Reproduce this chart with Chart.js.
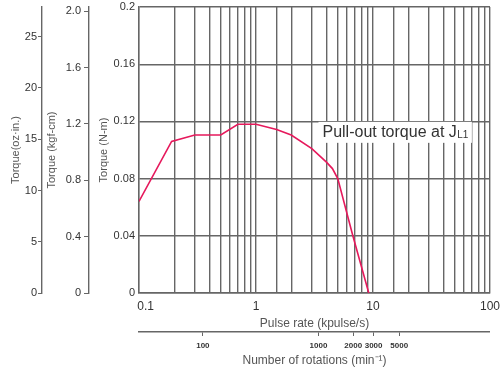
<!DOCTYPE html>
<html>
<head>
<meta charset="utf-8">
<script src="https://cdn.jsdelivr.net/npm/chart.js@4"></script>
<style>
  html, body { margin: 0; padding: 0; background: #fff; }
</style>
</head>
<body>
<canvas id="chart" width="500" height="368"></canvas>
<script>
// pull-out torque curve
const pulseRate = [0.1, 0.19, 0.3, 0.5, 0.7, 1.0, 1.5, 2, 3, 4, 4.5, 5, 6.7, 9.2];      // kpulse/s
const torqueNm  = [0.064, 0.106, 0.1105, 0.1105, 0.118, 0.118, 0.1143, 0.1105, 0.101, 0.0915, 0.087, 0.080, 0.0406, 0];

// axis ticks
const nmTicks   = [0, 0.04, 0.08, 0.12, 0.16, 0.2];
const nmLabels  = ['0', '0.04', '0.08', '0.12', '0.16', '0.2'];
const kgfTicks  = [0, 0.4, 0.8, 1.2, 1.6, 2.0];
const kgfLabels = ['0', '0.4', '0.8', '1.2', '1.6', '2.0'];
const ozTicks   = [0, 5, 10, 15, 20, 25];
const pulseLabelTicks = [0.1, 1, 10, 100];
const rpmTicks  = [100, 1000, 2000, 3000, 5000];

const curveName = 'Pull-out torque at J';
const curveNameSub = 'L1';
const curveNameAt = { x: 3.7, y: 0.112 };

const FONT = '"Liberation Sans", Arial, sans-serif';
const gridColor = '#666';
const textColor = '#333';
const titleColor = '#555';

Chart.defaults.font.family = FONT;

// white box + text for the curve name
const curveNamePlugin = {
  id: 'curveName',
  beforeDatasetsDraw(chart) {
    const { ctx, scales } = chart;
    const px = scales.x.getPixelForValue(curveNameAt.x);
    const py = scales.y.getPixelForValue(curveNameAt.y);
    ctx.save();
    ctx.font = '16px ' + FONT;
    const w1 = ctx.measureText(curveName).width;
    ctx.font = '10px ' + FONT;
    const w2 = ctx.measureText(curveNameSub).width;
    ctx.fillStyle = '#fff';
    ctx.fillRect(px - 4, py - 11, w1 + w2 + 8, 21);
    ctx.fillStyle = textColor;
    ctx.textBaseline = 'middle';
    ctx.font = '16px ' + FONT;
    ctx.fillText(curveName, px, py);
    ctx.font = '10px ' + FONT;
    ctx.fillText(curveNameSub, px + w1 + 0.5, py + 2);
    ctx.restore();
  }
};

function isLabelTick(v) {
  return pulseLabelTicks.find(t => Math.abs(v / t - 1) < 1e-6);
}

new Chart(document.getElementById('chart'), {
  type: 'line',
  data: {
    datasets: [{
      data: pulseRate.map((p, i) => ({ x: p, y: torqueNm[i] })),
      borderColor: '#e6195c',
      borderWidth: 1.6,
      pointRadius: 0,
      tension: 0,
      fill: false
    }]
  },
  options: {
    responsive: false,
    animation: false,
    devicePixelRatio: 1,
    layout: { padding: { top: 7, right: 0, bottom: 0, left: 0 } },
    plugins: { legend: { display: false }, tooltip: { enabled: false } },
    scales: {
      x: {
        type: 'logarithmic', position: 'bottom', weight: 0,
        min: 0.1, max: 100,
        grid: { color: gridColor, lineWidth: 1.4, drawTicks: true, tickLength: 6, tickColor: 'transparent' },
        border: { color: gridColor, width: 1.4 },
        ticks: {
          autoSkip: false, maxRotation: 0, padding: 0, color: textColor, font: { size: 12 },
          callback: v => {
            const t = isLabelTick(v);
            if (!t) return '';
            return t === 0.1 ? '    0.1' : String(t);
          }
        },
        title: { display: true, text: 'Pulse rate (kpulse/s)', color: titleColor, font: { size: 12 }, padding: { top: 0, bottom: 1 } },
        afterFit: s => { s.height = 39; }
      },
      x2: {
        type: 'logarithmic', position: 'bottom', weight: 1,
        min: 28, max: 30500,
        afterBuildTicks: s => { s.ticks = rpmTicks.map(v => ({ value: v })); },
        grid: { drawOnChartArea: false, color: gridColor, tickLength: 4 },
        border: { color: gridColor, width: 1.4 },
        ticks: { autoSkip: false, maxRotation: 0, padding: 5, color: textColor, font: { size: 8, weight: 'bold' }, callback: v => String(v) },
        title: { display: true, text: 'Number of rotations (min\u207B\u00B9)', color: titleColor, font: { size: 12 }, padding: { top: 0, bottom: 0 } },
        afterFit: s => { s.height = 36; }
      },
      y: {
        position: 'left', weight: 0,
        min: 0, max: 0.2,
        afterBuildTicks: s => { s.ticks = nmTicks.map(v => ({ value: v })); },
        grid: { color: gridColor, lineWidth: 1.4, drawTicks: true, tickLength: 4, tickColor: 'transparent' },
        border: { color: gridColor, width: 1.4 },
        ticks: { padding: 0, color: textColor, font: { size: 11, lineHeight: 0.5 }, callback: (v, i) => nmLabels[i] },
        title: { display: true, text: 'Torque (N-m)', color: titleColor, font: { size: 11 }, padding: { top: 8, bottom: 0 } },
        afterFit: s => { s.width = 50; }
      },
      yKgf: {
        position: 'left', weight: 1,
        min: 0, max: 2.03,
        afterBuildTicks: s => { s.ticks = kgfTicks.map(v => ({ value: v })); },
        grid: { drawOnChartArea: false, color: gridColor, tickLength: 5 },
        border: { color: gridColor, width: 1.4 },
        ticks: { padding: 3, color: textColor, font: { size: 11, lineHeight: 0.5 }, callback: (v, i) => kgfLabels[i] },
        title: { display: true, text: 'Torque (kgf-cm)', color: titleColor, font: { size: 11 }, padding: { top: 3, bottom: 0 } },
        afterFit: s => { s.width = 47; }
      },
      yOz: {
        position: 'left', weight: 2,
        min: 0, max: 27.9,
        afterBuildTicks: s => { s.ticks = ozTicks.map(v => ({ value: v })); },
        grid: { drawOnChartArea: false, color: gridColor, tickLength: 4 },
        border: { color: gridColor, width: 1.4 },
        ticks: { padding: 1, color: textColor, font: { size: 11, lineHeight: 0.5 }, callback: v => String(v) },
        title: { display: true, text: 'Torque(oz\u00B7in.)', color: titleColor, font: { size: 11 }, padding: { top: 9, bottom: 0 } },
        afterFit: s => { s.width = 42; }
      }
    }
  },
  plugins: [curveNamePlugin]
});
</script>
</body>
</html>
